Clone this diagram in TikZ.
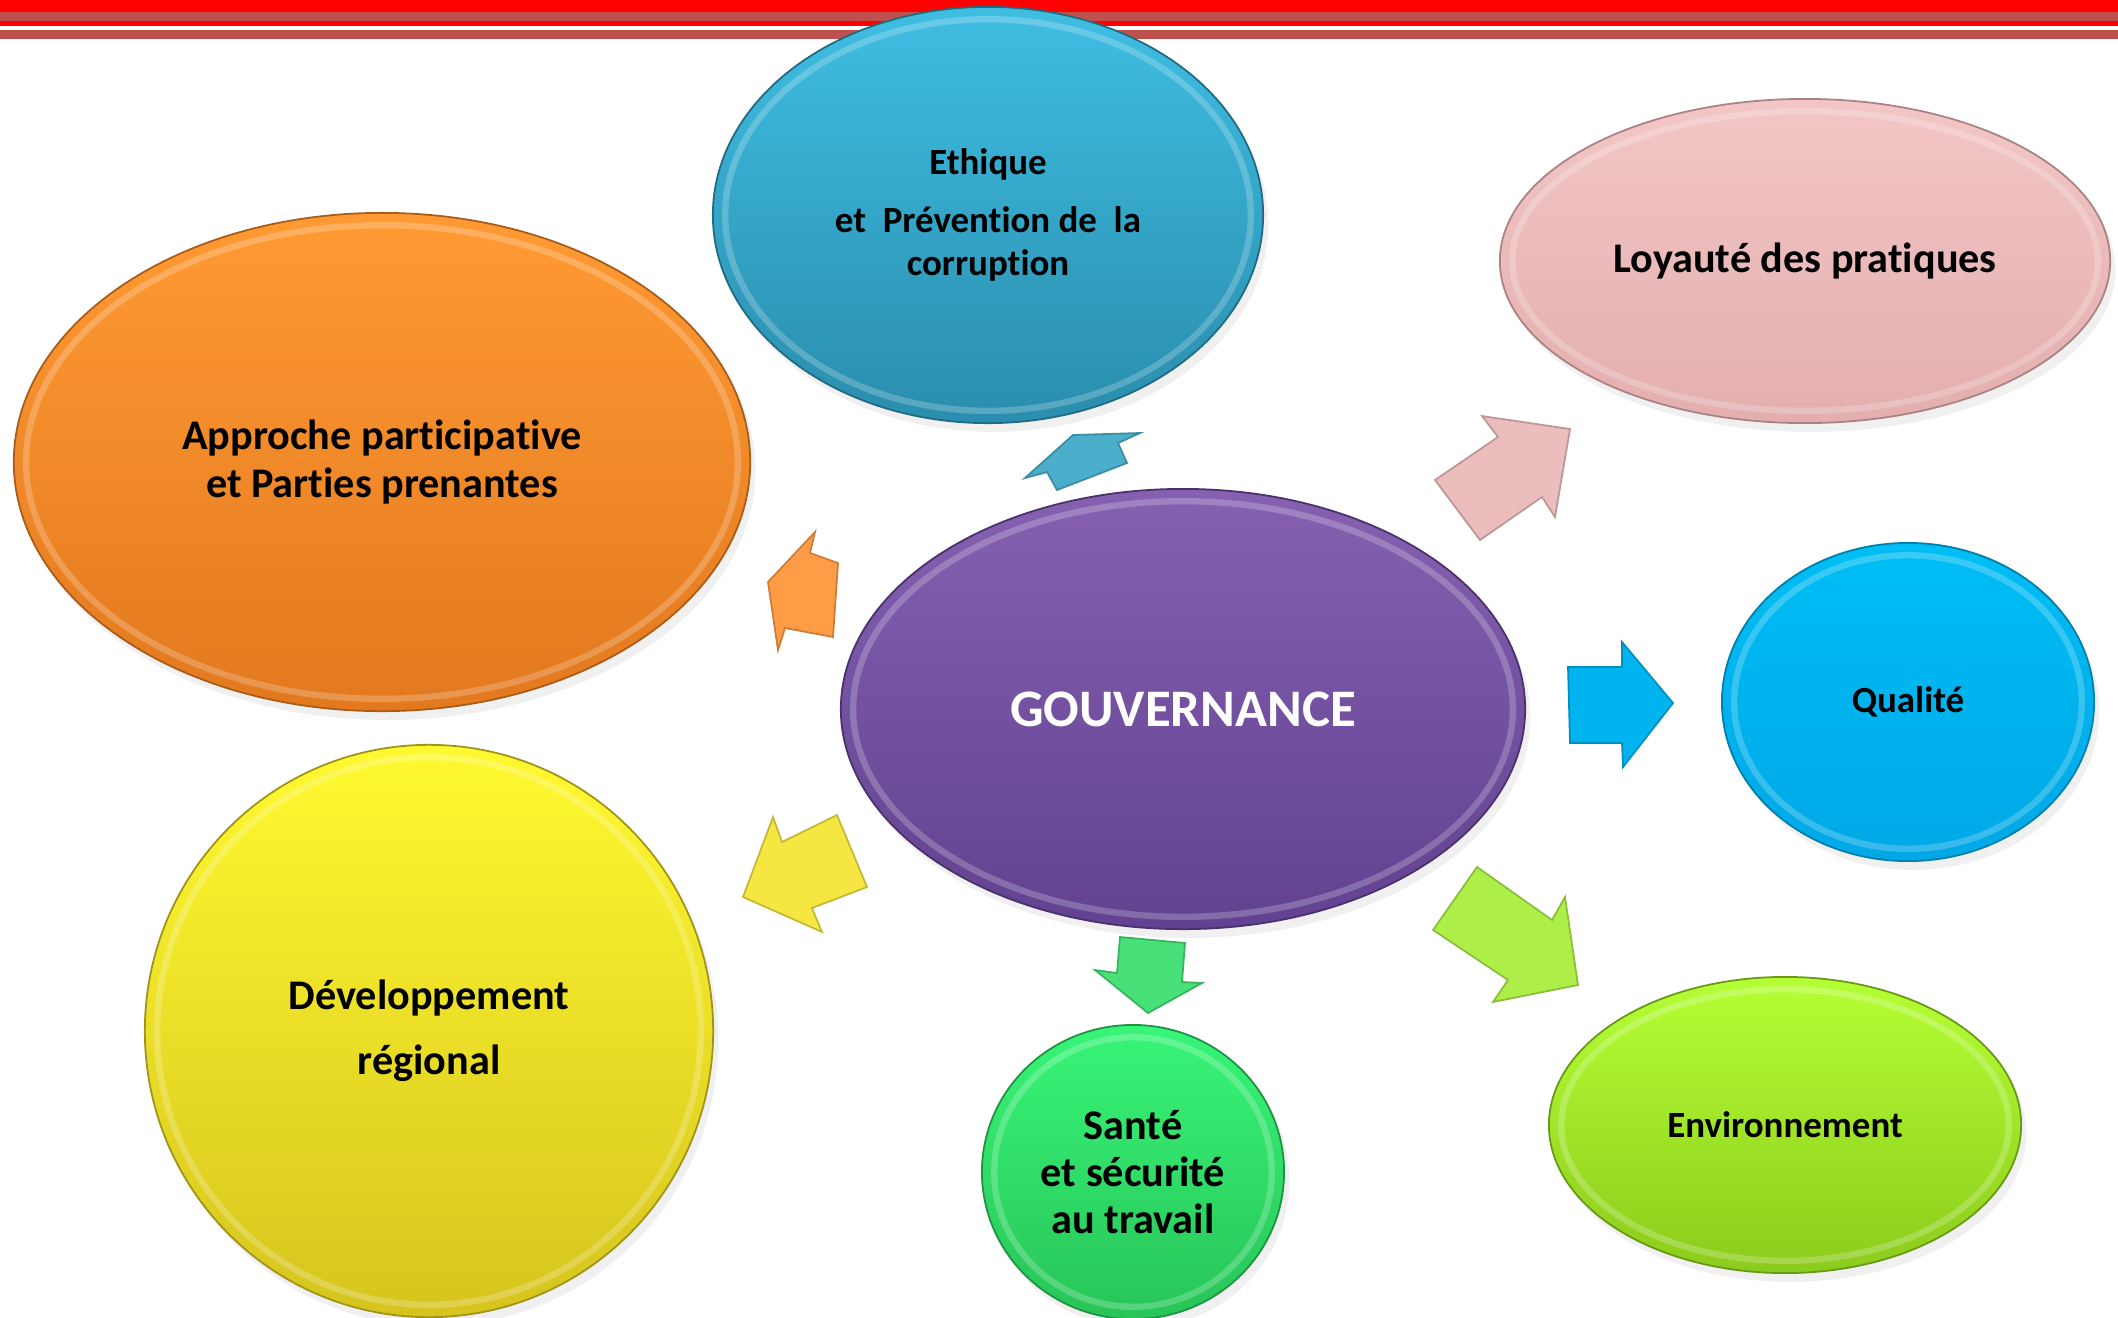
\documentclass[tikz,border=0pt]{standalone}
\usepackage{fontspec}
\setmainfont{Carlito}[Ligatures=NoCommon]
\usepackage{tikz}
\usetikzlibrary{shapes.geometric,shadows,calc}
\definecolor{bandred}{HTML}{FF0000}
\definecolor{bandrose}{HTML}{C0504D}
\definecolor{ethtop}{HTML}{3FBEE2}
\definecolor{ethbot}{HTML}{2A8DAD}
\definecolor{loytop}{HTML}{F3C6C6}
\definecolor{loybot}{HTML}{E3AEAE}
\definecolor{apptop}{HTML}{FF9A33}
\definecolor{appbot}{HTML}{E2791F}
\definecolor{goutop}{HTML}{8661B1}
\definecolor{goubot}{HTML}{614290}
\definecolor{quatop}{HTML}{00BEF5}
\definecolor{quabot}{HTML}{00A8E6}
\definecolor{devtop}{HTML}{FFF930}
\definecolor{devbot}{HTML}{D6C41E}
\definecolor{santop}{HTML}{38F578}
\definecolor{sanbot}{HTML}{28C458}
\definecolor{envtop}{HTML}{B5FF35}
\definecolor{envbot}{HTML}{8CCB1C}
\definecolor{arrteal}{HTML}{4BAFCB}
\definecolor{arrpink}{HTML}{EBBDBC}
\definecolor{arrorange}{HTML}{FF9C45}
\definecolor{arrblue}{HTML}{00B4F0}
\definecolor{arrlime}{HTML}{AEEE48}
\definecolor{arrgreen}{HTML}{48E078}
\definecolor{arryellow}{HTML}{F5E642}
\tikzset{
	bubble/.style 2 args={
			ellipse,
			top color       = #1,
			bottom color    = #2,
			draw            = #2!75!black,
			line width      = 0.5pt,
			inner sep       = 0pt,
			align           = center,
			drop shadow     = {opacity=.12, shadow xshift=1.5pt, shadow yshift=-2.5pt},
			path picture    = {
					\draw[white, opacity=.22, line width=1.8pt]
					let \p1=(path picture bounding box.north east),
					\p2=(path picture bounding box.center) in
					(\p2) ellipse [x radius={\x1-\x2-3.5pt}, y radius={\y1-\y2-3.5pt}];
				},
		},
	blockarrow/.style = {
			fill            = #1,
			draw            = #1!80!black,
			line width      = 0.5pt,
			line join       = miter,
		}
}
\begin{document}
\begin{tikzpicture}[x=0.01cm, y=-0.01cm]
			      \useasboundingbox (0,0) rectangle (2118,1317);
			      \fill[bandred] (0,0) rectangle (2118,12);
			      \fill[bandrose] (0,12) rectangle (2118,21);
			      \fill[bandred] (0,21) rectangle (2118,26);
			      \fill[bandrose] (0,29.5) rectangle (2118,39);
			      \node[bubble={ethtop}{ethbot}, minimum width=5.50cm, minimum height=4.16cm, font=\bfseries\fontsize{10.5}{12}\selectfont] at (988,215) (ethique) {Ethique\\[4.5pt]et\ \ Prévention de\ \ la\\corruption};
			      \node[bubble={loytop}{loybot}, minimum width=6.10cm, minimum height=3.24cm, font=\bfseries\fontsize{12}{13.4}\selectfont] at (1805,261) (loyaute) {Loyauté des pratiques};
			      \node[bubble={apptop}{appbot}, minimum width=7.36cm, minimum height=4.98cm, font=\bfseries\fontsize{12}{13.4}\selectfont] at (382,462) (approche) {Approche participative\\et Parties prenantes};
			      \node[bubble={goutop}{goubot}, minimum width=6.84cm, minimum height=4.40cm, font=\bfseries\fontsize{15}{17}\selectfont, text=white] at (1183,709) (gouv) {GOUVERNANCE};
			      \node[bubble={quatop}{quabot}, minimum width=3.72cm, minimum height=3.18cm, font=\bfseries\fontsize{10.5}{12}\selectfont] at (1908,702) (qualite) {Qualité};
			      \node[bubble={devtop}{devbot}, minimum width=5.68cm, minimum height=5.72cm, font=\bfseries\fontsize{12}{13.4}\selectfont] at (429,1031) (dev) {Développement\\[5pt]régional};
			      \node[bubble={santop}{sanbot}, minimum width=3.02cm, minimum height=2.94cm, font=\bfseries\fontsize{12}{13.4}\selectfont] at (1133,1172) (sante) {Santé\\et sécurité\\au travail};
			      \node[bubble={envtop}{envbot}, minimum width=4.72cm, minimum height=2.96cm, font=\bfseries\fontsize{10.5}{12}\selectfont] at (1785,1125) (env) {Environnement};
			      \draw[blockarrow=arrteal] (1025,478) -- (1073,435) -- (1140,433) -- (1118,443) -- (1127,463) -- (1057,490) -- (1047,472) -- cycle;
			      \draw[blockarrow=arrpink] (1435,480) -- (1498,437) -- (1482,416) -- (1570,429) -- (1555,517) -- (1542,497) -- (1480,540) -- cycle;
			      \draw[blockarrow=arrorange] (768,582) -- (815,532) -- (810,553) -- (838,563) -- (833,637) -- (785,628) -- (778,650) -- cycle;
			      \draw[blockarrow=arrblue] (1568,667) -- (1622,667) -- (1622,642) -- (1673,703) -- (1623,767) -- (1622,743) -- (1570,743) -- cycle;
			      \draw[blockarrow=arryellow] (743,897) -- (773,817) -- (782,842) -- (837,815) -- (867,887) -- (812,908) -- (822,932) -- cycle;
			      \draw[blockarrow=arrgreen] (1120,937) -- (1185,943) -- (1182,982) -- (1202,983) -- (1148,1013) -- (1095,970) -- (1117,973) -- cycle;
			      \draw[blockarrow=arrlime] (1477,867) -- (1552,920) -- (1565,897) -- (1578,985) -- (1493,1002) -- (1508,980) -- (1433,930) -- cycle;
		      \end{tikzpicture}
\end{document}
